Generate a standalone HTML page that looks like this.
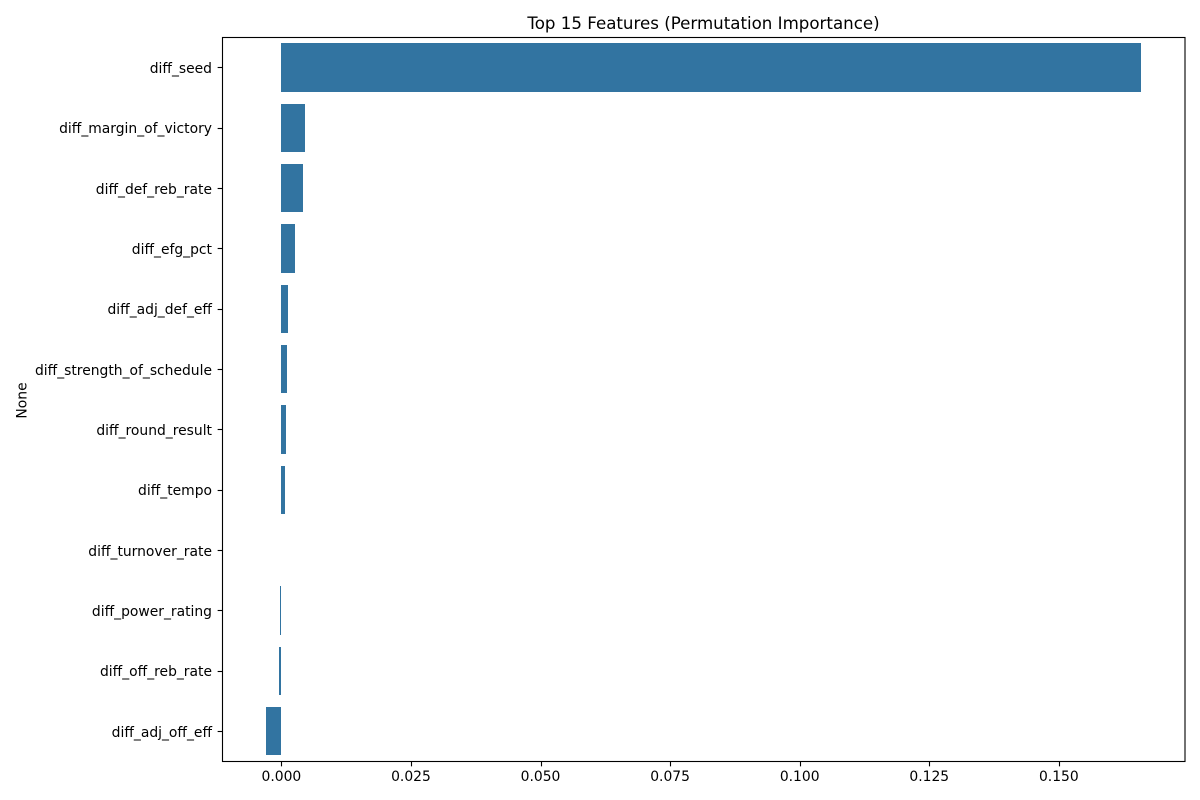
<!DOCTYPE html>
<html>
<head>
<meta charset="utf-8">
<title>Top 15 Features (Permutation Importance)</title>
<style>
html,body{margin:0;padding:0;background:#fff;}
svg{display:block;}
text{font-family:"DejaVu Sans","Liberation Sans",sans-serif;fill:#000;}
</style>
</head>
<body>
<svg id="chart" width="1200" height="800" viewBox="0 0 1200 800" xmlns="http://www.w3.org/2000/svg">
<rect x="0" y="0" width="1200" height="800" fill="#ffffff"/>
<text x="703.5" y="29" font-size="16.67" text-anchor="middle">Top 15 Features (Permutation Importance)</text>
<text x="0" y="0" font-size="13.89" text-anchor="middle" transform="translate(26.5,400.5) rotate(-90)">None</text>
<g id="bars"></g>
<g id="y-axis"></g>
<g id="x-axis"></g>
<rect x="222.5" y="37.5" width="962.5" height="724" fill="none" stroke="#000" stroke-width="1.11"/>
</svg>
<script>
const categories = ["diff_seed","diff_margin_of_victory","diff_def_reb_rate","diff_efg_pct","diff_adj_def_eff","diff_strength_of_schedule","diff_round_result","diff_tempo","diff_turnover_rate","diff_power_rating","diff_off_reb_rate","diff_adj_off_eff"];
const importanceValues = [0.1659,0.00463,0.00425,0.00272,0.00135,0.00116,0.00097,0.00077,0,-0.00018,-0.00037,-0.00288];
const xTickValues = [0,0.025,0.05,0.075,0.1,0.125,0.15];
const xTickLabels = ["0.000","0.025","0.050","0.075","0.100","0.125","0.150"];

const NS = "http://www.w3.org/2000/svg";
const plotLeft = 222.5, plotRight = 1185, plotTop = 37.5, plotBottom = 761.5;
const xMin = -0.01136, xMax = 0.17434;
function xScale(v){ return plotLeft + (v - xMin) / (xMax - xMin) * (plotRight - plotLeft); }
function yScale(i){ return plotTop + (i + 0.5) / categories.length * (plotBottom - plotTop); }
const bandHeight = (plotBottom - plotTop) / categories.length * 0.8;
function make(tag, attrs, parent){
  const el = document.createElementNS(NS, tag);
  for (const k in attrs) el.setAttribute(k, attrs[k]);
  parent.appendChild(el);
  return el;
}
const barsG = document.getElementById("bars");
const yG = document.getElementById("y-axis");
const xG = document.getElementById("x-axis");

categories.forEach(function(name, i){
  const v = importanceValues[i];
  const x0 = Math.round(xScale(Math.min(0, v)));
  const x1 = Math.round(xScale(Math.max(0, v)));
  const cy = yScale(i);
  const y0 = Math.round(cy - bandHeight/2 - 0.1);
  const y1 = Math.round(cy + bandHeight/2 - 0.1);
  const bar = make("rect", {x:x0, y:y0, width:x1 - x0, height:y1 - y0, fill:"#3274a1"}, barsG);
  
  
  const tickY = Math.floor(cy) + 0.5;
  const tick = make("line", {x1:plotLeft - 4.86, x2:plotLeft, y1:tickY, y2:tickY, stroke:"#000", "stroke-width":1.11}, yG);
  
  
  const label = make("text", {x:212, y:Math.ceil(cy - 0.01) + 5, "font-size":13.89, "text-anchor":"end"}, yG);
  
  
  label.textContent = name;
});

xTickValues.forEach(function(v, i){
  const x = xScale(v);
  const tickX = Math.round(x) + 0.5;
  const tick = make("line", {x1:tickX, x2:tickX, y1:plotBottom, y2:plotBottom + 4.86, stroke:"#000", "stroke-width":1.11}, xG);
  
  
  const label = make("text", {x:x, y:781, "font-size":13.89, "text-anchor":"middle"}, xG);
  
  
  label.textContent = xTickLabels[i];
});
</script>
</body>
</html>
